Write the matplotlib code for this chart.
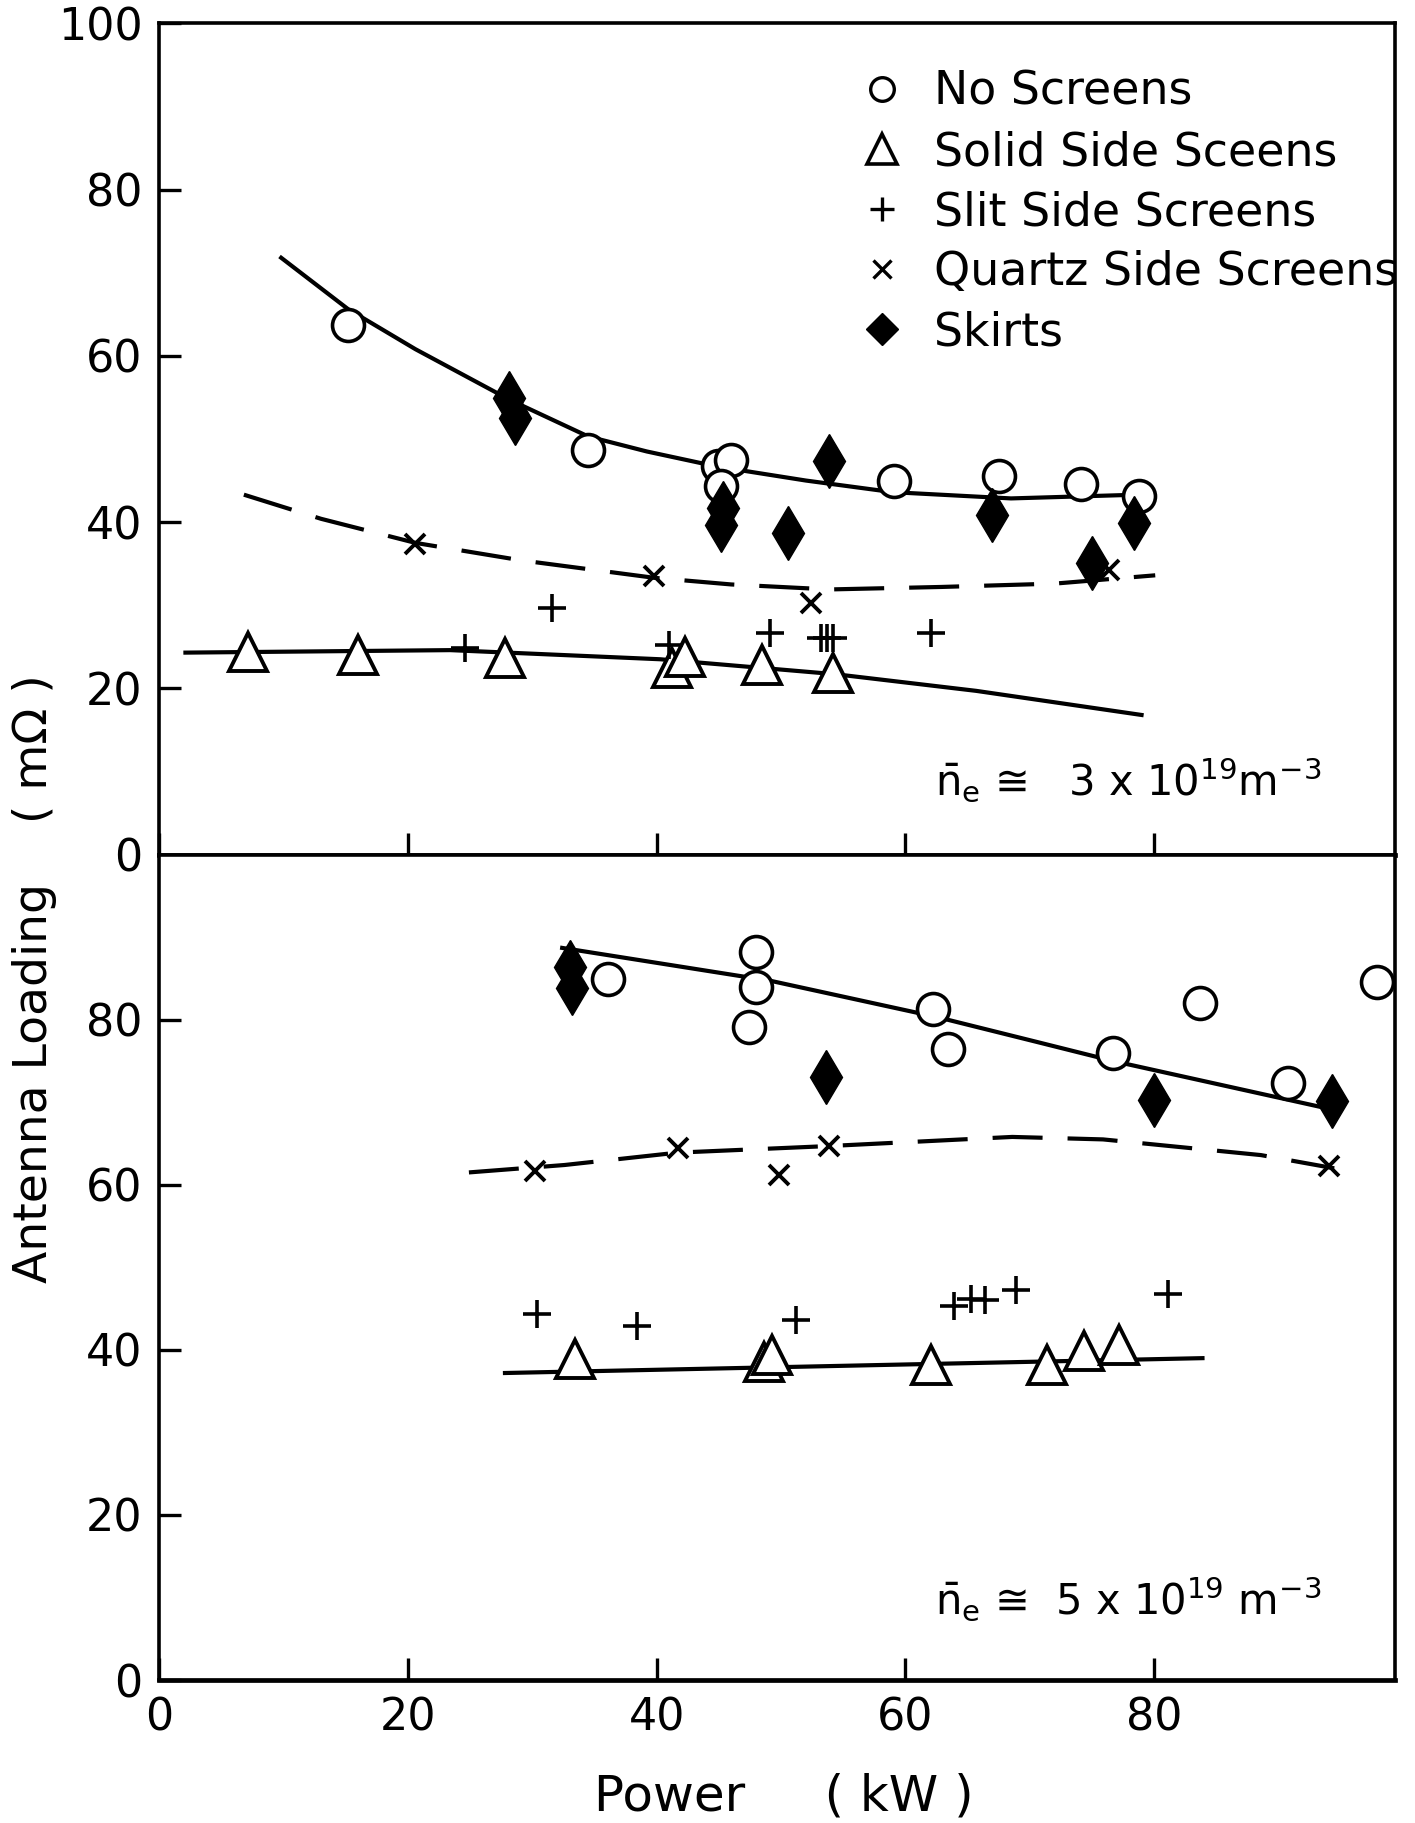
import matplotlib
matplotlib.use("Agg")
import matplotlib.pyplot as plt
from matplotlib.lines import Line2D

plt.rcParams['font.family'] = ['DejaVu Sans']
plt.rcParams['mathtext.fontset'] = 'dejavusans'

# ---------------- data: top panel (n_e ~ 3e19) ----------------
top_none_x = [15.2, 34.5, 44.9, 46.0, 45.2, 59.1, 67.5, 74.1, 78.8]
top_none_y = [63.7, 48.7, 46.8, 47.5, 44.3, 44.9, 45.6, 44.6, 43.2]
top_solid_x = [7.1, 16.0, 27.8, 41.2, 42.3, 48.5, 54.2]
top_solid_y = [24.4, 24.0, 23.7, 22.5, 23.8, 22.8, 21.9]
top_slit_x = [24.6, 31.6, 41.0, 49.1, 53.2, 53.7, 54.2, 62.1]
top_slit_y = [24.9, 29.7, 25.2, 26.6, 26.1, 26.1, 26.1, 26.7]
top_quartz_x = [20.6, 39.8, 52.4, 76.4]
top_quartz_y = [37.4, 33.5, 30.3, 34.2]
top_skirt_x = [28.1, 28.6, 45.3, 45.2, 50.6, 53.9, 67.0, 75.0, 78.4]
top_skirt_y = [54.9, 52.5, 41.7, 39.7, 38.7, 47.3, 40.9, 35.1, 39.9]

# fitted curves
top_fit_none_x = [9.8, 15.2, 20.6, 28.2, 34.5, 39.2, 44.8, 52.0, 59.0, 68.5, 78.7]
top_fit_none_y = [71.8, 65.6, 60.8, 54.7, 50.3, 48.5, 46.7, 45.0, 43.6, 42.85, 43.3]
top_fit_quartz_x = [6.8, 13.0, 20.6, 29.1, 39.8, 46.0, 53.9, 62.9, 72.0, 80.1]
top_fit_quartz_y = [43.3, 40.4, 37.5, 35.4, 33.3, 32.5, 31.9, 32.2, 32.6, 33.6]
top_fit_solid_x = [2.1, 23.4, 40.3, 54.4, 65.7, 79.0]
top_fit_solid_y = [24.3, 24.6, 23.5, 21.7, 19.7, 16.8]

# ---------------- data: bottom panel (n_e ~ 5e19) ----------------
bot_none_x = [36.1, 48.0, 48.0, 47.4, 62.2, 63.4, 76.7, 83.7, 90.8, 97.9]
bot_none_y = [84.9, 88.2, 84.0, 79.1, 81.3, 76.4, 76.0, 82.0, 72.3, 84.6]
bot_solid_x = [33.4, 48.6, 49.3, 62.1, 71.4, 74.4, 77.2]
bot_solid_y = [38.9, 38.5, 39.4, 38.2, 38.2, 39.9, 40.6]
bot_slit_x = [30.4, 38.4, 51.2, 63.9, 65.3, 66.4, 68.9, 81.1]
bot_slit_y = [44.3, 42.9, 43.6, 45.3, 46.2, 46.1, 47.3, 46.8]
bot_quartz_x = [30.2, 41.7, 49.8, 53.9, 94.1]
bot_quartz_y = [61.7, 64.4, 61.2, 64.7, 62.3]
bot_skirt_x = [33.0, 33.2, 53.6, 80.0, 94.3]
bot_skirt_y = [86.4, 83.8, 73.0, 70.3, 70.1]

bot_fit_none_x = [32.4, 49.2, 62.6, 70.6, 76.7, 93.5]
bot_fit_none_y = [88.7, 84.7, 80.3, 77.3, 75.0, 69.4]
bot_fit_quartz_x = [24.9, 32.6, 41.7, 53.9, 68.6, 75.9, 88.6, 94.5]
bot_fit_quartz_y = [61.5, 62.4, 63.9, 64.7, 65.8, 65.5, 63.6, 62.0]
bot_fit_solid_x = [27.8, 83.9]
bot_fit_solid_y = [37.2, 39.0]

legend_labels = ["No Screens", "Solid Side Sceens", "Slit Side Screens",
                 "Quartz Side Screens", "Skirts"]
x_ticks = [0, 20, 40, 60, 80]
top_yticks = [0, 20, 40, 60, 80, 100]
bot_yticks = [0, 20, 40, 60, 80]

# ---------------- figure ----------------
fig = plt.figure(figsize=(14.15, 18.23), dpi=100)
ax_top = fig.add_axes([0.1126, 0.5312, 0.8734, 0.4560])
ax_bot = fig.add_axes([0.1126, 0.0784, 0.8734, 0.4528])

styles = {
    'none':   dict(marker='o', ms=23, mfc='white', mec='black', mew=2.6, ls='none'),
    'solid':  dict(marker='^', ms=27, mfc='white', mec='black', mew=2.8, ls='none'),
    'slit':   dict(marker='+', ms=20, mec='black', mew=2.6, ls='none'),
    'quartz': dict(marker='x', ms=15, mec='black', mew=2.8, ls='none'),
    'skirt':  dict(marker='d', ms=28, mfc='black', mec='black', mew=1, ls='none'),
}
dash = (0, (12, 6))
LW = 3.0

def draw(ax, none, solid, slit, quartz, skirt, fn, fq, fs):
    ax.plot(*fn, color='black', lw=LW, zorder=2)
    ax.plot(*fq, color='black', lw=LW, ls=dash, zorder=2)
    ax.plot(*fs, color='black', lw=LW, zorder=2)
    ax.plot(*none, **styles['none'], zorder=3)
    ax.plot(*solid, **styles['solid'], zorder=3)
    ax.plot(*slit, **styles['slit'], zorder=3)
    ax.plot(*quartz, **styles['quartz'], zorder=3)
    ax.plot(*skirt, **styles['skirt'], zorder=4)

draw(ax_top, (top_none_x, top_none_y), (top_solid_x, top_solid_y),
     (top_slit_x, top_slit_y), (top_quartz_x, top_quartz_y),
     (top_skirt_x, top_skirt_y),
     (top_fit_none_x, top_fit_none_y), (top_fit_quartz_x, top_fit_quartz_y),
     (top_fit_solid_x, top_fit_solid_y))
draw(ax_bot, (bot_none_x, bot_none_y), (bot_solid_x, bot_solid_y),
     (bot_slit_x, bot_slit_y), (bot_quartz_x, bot_quartz_y),
     (bot_skirt_x, bot_skirt_y),
     (bot_fit_none_x, bot_fit_none_y), (bot_fit_quartz_x, bot_fit_quartz_y),
     (bot_fit_solid_x, bot_fit_solid_y))

for ax, yt in ((ax_top, top_yticks), (ax_bot, bot_yticks)):
    ax.set_xlim(0, 99.4)
    ax.set_ylim(0, 100)
    ax.set_xticks(x_ticks)
    ax.set_yticks(yt)
    ax.tick_params(axis='both', direction='in', length=16, width=2.4,
                   labelsize=32, pad=12, top=False, right=False)
    for s in ax.spines.values():
        s.set_linewidth(2.6)
    ax.spines['bottom'].set_linewidth(3.4)

ax_top.tick_params(axis='x', labelbottom=False)

# legend
handles = [
    Line2D([], [], marker='o', ms=17, mfc='white', mec='black', mew=2.4, ls='none'),
    Line2D([], [], marker='^', ms=21, mfc='white', mec='black', mew=2.6, ls='none'),
    Line2D([], [], marker='+', ms=17, mec='black', mew=2.4, ls='none'),
    Line2D([], [], marker='x', ms=13, mec='black', mew=2.4, ls='none'),
    Line2D([], [], marker='D', ms=16, mfc='black', mec='black', ls='none'),
]
ax_top.legend(handles, legend_labels, loc='upper left',
              bbox_to_anchor=(0.5665, 0.944), frameon=False, fontsize=33,
              handlelength=1.0, handletextpad=0.62, labelspacing=0.33,
              borderpad=0, borderaxespad=0)

# density annotations
ax_top.text(0.628, 0.090, r'$\bar{\mathrm{n}}_\mathrm{e}$ ≅   3 x 10$^{19}$m$^{-3}$',
            transform=ax_top.transAxes, fontsize=30, va='center', ha='left')
ax_bot.text(0.628, 0.099, r'$\bar{\mathrm{n}}_\mathrm{e}$ ≅  5 x 10$^{19}$ m$^{-3}$',
            transform=ax_bot.transAxes, fontsize=30, va='center', ha='left')

# axis labels
fig.text(0.0247, 0.463, 'Antenna Loading    ( mΩ )', rotation=90,
         fontsize=34, va='center', ha='center')
fig.text(0.554, 0.0148, 'Power     ( kW )', fontsize=36, va='center', ha='center')

fig.savefig('out.png', dpi=100, facecolor='white')
